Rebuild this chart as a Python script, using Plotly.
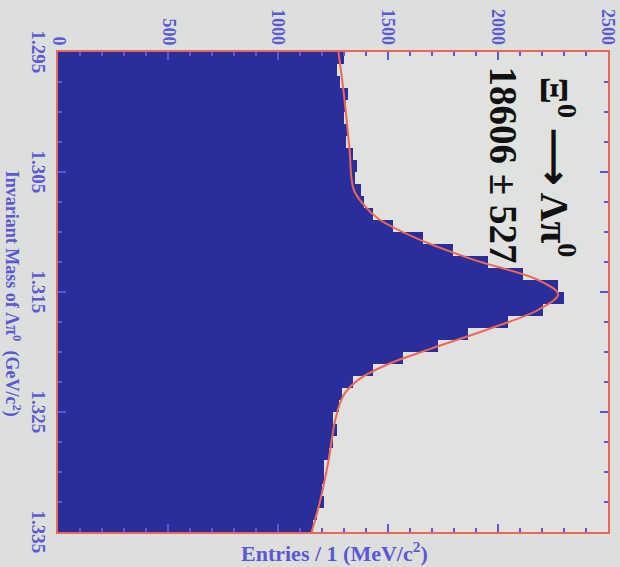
import plotly.graph_objects as go

# Histogram: invariant mass bin centres (GeV/c^2) and entries per 1 MeV/c^2
mass_centers = [1.2955, 1.2965, 1.2975, 1.2985, 1.2995, 1.3005, 1.3015, 1.3025,
                1.3035, 1.3045, 1.3055, 1.3065, 1.3075, 1.3085, 1.3095, 1.3105,
                1.3115, 1.3125, 1.3135, 1.3145, 1.3155, 1.3165, 1.3175, 1.3185,
                1.3195, 1.3205, 1.3215, 1.3225, 1.3235, 1.3245, 1.3255, 1.3265,
                1.3275, 1.3285, 1.3295, 1.3305, 1.3315, 1.3325, 1.3335, 1.3345]
entries = [1298, 1266, 1284, 1320, 1307, 1298, 1320, 1307, 1343, 1357,
           1352, 1375, 1390, 1434, 1524, 1660, 1797, 1956, 2114, 2273,
           2300, 2205, 2046, 1865, 1729, 1570, 1434, 1343, 1289, 1275,
           1252, 1266, 1252, 1230, 1211, 1207, 1198, 1207, 1175, 1157]

# Fit curve
fit_mass = [1.2950, 1.2989, 1.3031, 1.3064, 1.3077, 1.3089, 1.3106, 1.3123,
            1.3140, 1.3152, 1.3165, 1.3181, 1.3198, 1.3210, 1.3223, 1.3236,
            1.3256, 1.3290, 1.3323, 1.3350]
fit_entries = [1275, 1302, 1325, 1343, 1388, 1456, 1638, 1887,
               2182, 2273, 2182, 1955, 1683, 1502, 1366, 1298,
               1261, 1230, 1193, 1153]

x_ticks = [0, 500, 1000, 1500, 2000, 2500]
x_ticktext = ["0", "500", "1000", "1500", "2000", "2500"]
y_ticks = [1.295, 1.305, 1.315, 1.325, 1.335]
y_ticktext = ["1.295", "1.305", "1.315", "1.325", "1.335"]

BLUE_TXT = "#5b58d4"
RED = "#ee6655"
BAR = "#2a2e9c"
BG = "#dcdfdb"

ML, MR, MT, MB = 58, 10, 52, 35
W, H = 620, 567
PW, PH = W - ML - MR, H - MT - MB


def px_x(px):
    return (px - ML) / PW


def px_y(py):
    return 1 - (py - MT) / PH


fig = go.Figure()
fig.add_trace(go.Bar(x=entries, y=mass_centers, orientation="h", width=0.001,
                     marker=dict(color=BAR, line=dict(width=0)), showlegend=False))
fig.add_trace(go.Scatter(x=fit_entries, y=fit_mass, mode="lines",
                         line=dict(color=RED, width=2, shape="spline"), showlegend=False))

annotations = []
# tick labels (rotated), placed at the axis tick values
for v, t in zip(x_ticks, x_ticktext):
    annotations.append(dict(text=t, xref="x", yref="paper", x=v, y=px_y(47),
                            textangle=90, showarrow=False, xanchor="center", yanchor="bottom",
                            font=dict(family="Liberation Serif", size=18, color=BLUE_TXT, weight="bold")))
for v, t in zip(y_ticks, y_ticktext):
    annotations.append(dict(text=t, xref="paper", yref="y", x=px_x(51), y=v,
                            textangle=90, showarrow=False, xanchor="right", yanchor="middle",
                            font=dict(family="Liberation Serif", size=19, color=BLUE_TXT, weight="bold")))

annotations += [
    dict(text="Ξ<sup>0</sup> ⟶ Λπ<sup>0</sup>", xref="paper", yref="paper",
         x=px_x(560), y=px_y(167), textangle=90, showarrow=False,
         xanchor="center", yanchor="middle",
         font=dict(family="Liberation Serif", size=40, color="#111111", weight="bold")),
    dict(text="18606 ± 527", xref="paper", yref="paper",
         x=px_x(505), y=px_y(165), textangle=90, showarrow=False,
         xanchor="center", yanchor="middle",
         font=dict(family="Liberation Serif", size=39, color="#111111", weight="bold")),
    dict(text="Invariant Mass of Λπ<sup>0</sup>  (GeV/c<sup>2</sup>)", xref="paper", yref="paper",
         x=px_x(12), y=px_y(294), textangle=90, showarrow=False,
         xanchor="center", yanchor="middle",
         font=dict(family="Liberation Serif", size=18, color=BLUE_TXT, weight="bold")),
    dict(text="Entries / 1 (MeV/c<sup>2</sup>)", xref="paper", yref="paper",
         x=px_x(336), y=px_y(552), showarrow=False,
         xanchor="center", yanchor="middle",
         font=dict(family="Liberation Serif", size=22, color=BLUE_TXT, weight="bold")),
]

fig.update_layout(
    width=W, height=H,
    margin=dict(l=ML, r=MR, t=MT, b=MB),
    paper_bgcolor=BG, plot_bgcolor="#dfe2de",
    bargap=0,
    xaxis=dict(range=[0, 2500], side="top", tickmode="array", tickvals=x_ticks,
               showticklabels=False,
               ticks="inside", ticklen=8, tickwidth=2,
               tickcolor=BLUE_TXT, showline=True, linecolor=RED, linewidth=2,
               mirror="ticks", showgrid=False, zeroline=False,
               minor=dict(dtick=100, ticks="inside", ticklen=4, tickwidth=2, tickcolor=BLUE_TXT)),
    yaxis=dict(range=[1.335, 1.295], tickmode="array", tickvals=y_ticks,
               showticklabels=False,
               ticks="inside", ticklen=8, tickwidth=2,
               tickcolor=BLUE_TXT, showline=True, linecolor=RED, linewidth=2,
               mirror="ticks", showgrid=False, zeroline=False,
               minor=dict(dtick=0.0025, ticks="inside", ticklen=4, tickwidth=2, tickcolor=BLUE_TXT)),
    annotations=annotations,
)

fig.write_html("out.html")
